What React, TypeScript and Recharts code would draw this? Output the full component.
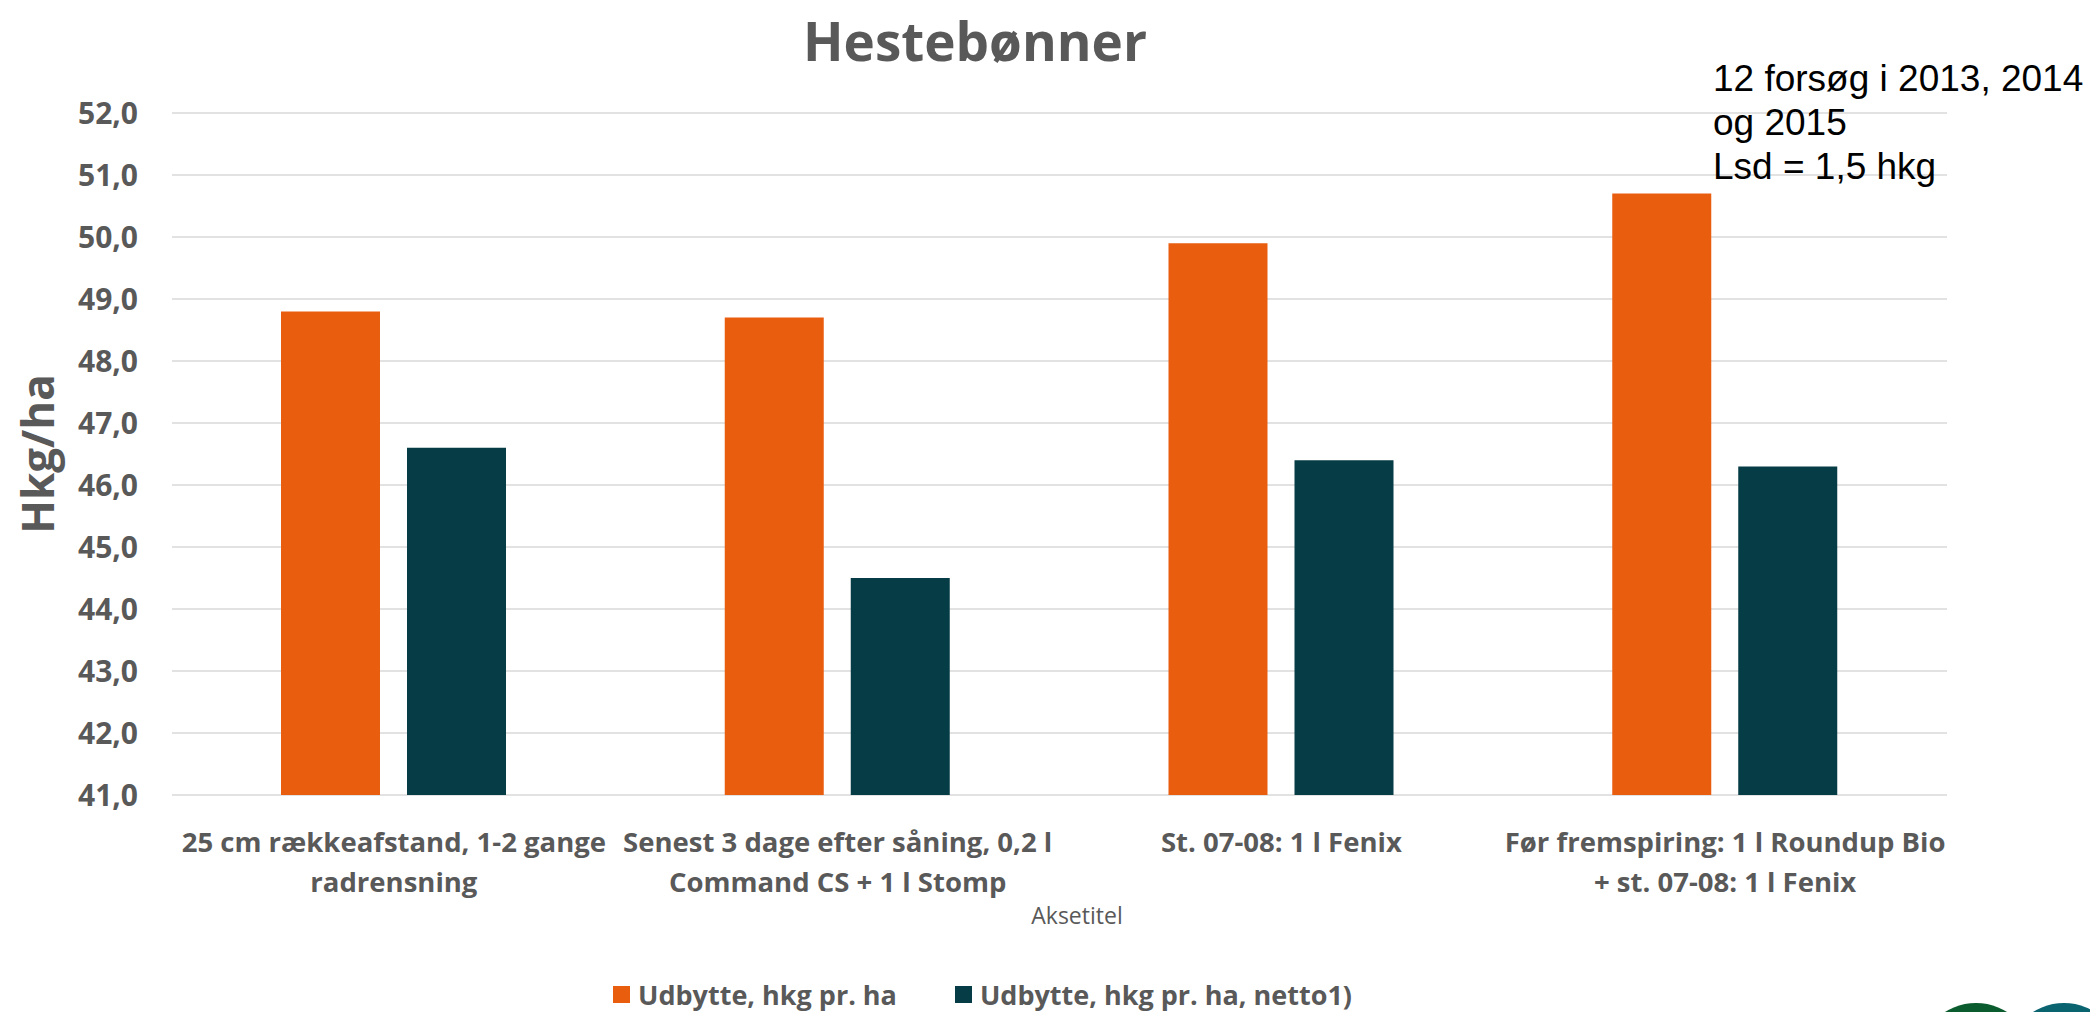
import { Bar, BarChart, CartesianGrid, XAxis, YAxis } from "recharts"

const categories = [
    "25 cm rækkeafstand, 1-2 gange radrensning",
    "Senest 3 dage efter såning, 0,2 l Command CS + 1 l Stomp",
    "St. 07-08: 1 l Fenix",
    "Før fremspiring: 1 l Roundup Bio + st. 07-08: 1 l Fenix",
];
const tickLines = [
    ["25 cm rækkeafstand, 1-2 gange", "radrensning"],
    ["Senest 3 dage efter såning, 0,2 l", "Command CS + 1 l Stomp"],
    ["St. 07-08: 1 l Fenix"],
    ["Før fremspiring: 1 l Roundup Bio", "+ st. 07-08: 1 l Fenix"],
];
const udbytte = [48.8, 48.7, 49.9, 50.7];
const netto = [46.6, 44.5, 46.4, 46.3];
const yTicks = [41, 42, 43, 44, 45, 46, 47, 48, 49, 50, 51, 52];
const seriesNames = ["Udbytte, hkg pr. ha", "Udbytte, hkg pr. ha, netto1)"];
const seriesColors = ["#E95D0F", "#053C45"];
const noteLines = ["12 forsøg i 2013, 2014", "og 2015", "Lsd = 1,5 hkg"];

const data = categories.map((c, i) => ({ category: c, udbytte: udbytte[i], netto: netto[i] }));

const gray = "#595959";
const font = "'Open Sans', 'Noto Sans', sans-serif";

function CategoryTick(props: any) {
    const { x, y, index } = props;
    const lines = tickLines[index] || [];
    return (
        <g>
            {lines.map((line, i) => (
                <text key={i} x={x} y={y + 57 + i * 40} textAnchor="middle" fill={gray}
                      fontFamily={font} fontWeight={700} fontSize={27.5}>
                    {line}
                </text>
            ))}
        </g>
    );
}

export default function App() {
    return (
        <div style={{ position: "absolute", left: 0, top: 0, width: 2090, height: 1012, overflow: "hidden", background: "#fff", fontFamily: font }}>
            <BarChart width={2090} height={1012} data={data}
                      margin={{ top: 113, right: 143, bottom: 117, left: 72 }}
                      barSize={99} barGap={27}>
                <CartesianGrid vertical={false} stroke="#d9d9d9" strokeWidth={1.5} />
                <XAxis dataKey="category" axisLine={false} tickLine={false} tickSize={0} tickMargin={0}
                       height={100} interval={0} tick={<CategoryTick />} />
                <YAxis domain={[41, 52]} ticks={yTicks} width={100} axisLine={false} tickLine={false}
                       tickSize={0} tickMargin={34} interval={0}
                       tickFormatter={(v: number) => v.toFixed(1).replace(".", ",")}
                       tick={{ fill: gray, fontFamily: font, fontWeight: 700, fontSize: 30 }} />
                <Bar dataKey="udbytte" name={seriesNames[0]} fill={seriesColors[0]} isAnimationActive={false} />
                <Bar dataKey="netto" name={seriesNames[1]} fill={seriesColors[1]} isAnimationActive={false} />
            </BarChart>

            <div style={{ position: "absolute", left: 0, width: 1950, top: 4, textAlign: "center", color: gray, fontWeight: 700, fontSize: 53 }}>
                Hestebønner
            </div>

            <div style={{ position: "absolute", left: 37, top: 454, transform: "translate(-50%, -50%) rotate(-90deg)", color: gray, fontWeight: 700, fontSize: 44, whiteSpace: "nowrap" }}>
                Hkg/ha
            </div>

            <div style={{ position: "absolute", left: 977, width: 200, top: 899, textAlign: "center", color: gray, fontSize: 23 }}>
                Aksetitel
            </div>

            <div style={{ position: "absolute", left: 1713, top: 57, fontFamily: "'Liberation Sans', Arial, sans-serif", fontSize: 37, lineHeight: "44px", color: "#000", whiteSpace: "nowrap" }}>
                {noteLines.map((l, i) => <div key={i}>{l}</div>)}
            </div>

            <div style={{ position: "absolute", left: 613, top: 976, display: "flex", alignItems: "center", color: gray, fontWeight: 700, fontSize: 27 }}>
                {seriesNames.map((n, i) => (
                    <div key={n} style={{ display: "flex", alignItems: "center", marginRight: 58 }}>
                        <span style={{ display: "inline-block", width: 17, height: 17, background: seriesColors[i], marginRight: 8 }} />
                        <span>{n}</span>
                    </div>
                ))}
            </div>

            <div style={{ position: "absolute", left: 1918, top: 1003, width: 116, height: 116, borderRadius: "50%", background: "#0A5C2E" }} />
            <div style={{ position: "absolute", left: 2006, top: 1003, width: 116, height: 116, borderRadius: "50%", background: "#0A6470" }} />
        </div>
    );
}
